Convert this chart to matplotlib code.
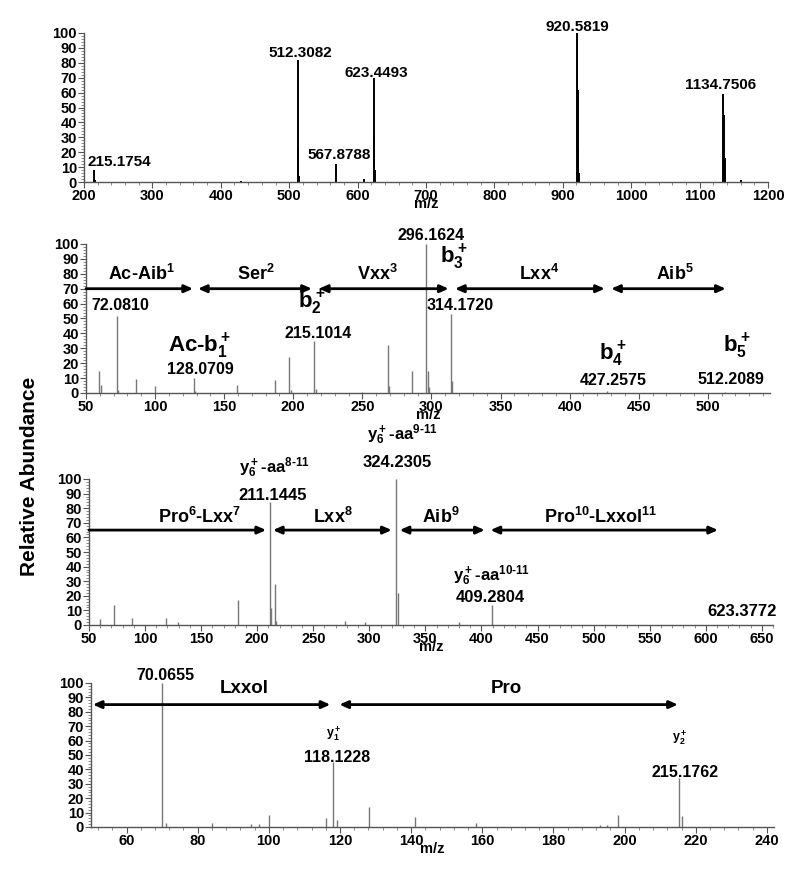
import matplotlib
matplotlib.use("Agg")
import matplotlib.pyplot as plt
from matplotlib.ticker import MultipleLocator

plt.rcParams['font.family'] = ['Liberation Sans Narrow', 'Liberation Sans', 'DejaVu Sans']
plt.rcParams['font.weight'] = 'bold'
plt.rcParams['mathtext.fontset'] = 'custom'
plt.rcParams['mathtext.rm'] = 'Liberation Sans:bold'
plt.rcParams['mathtext.bf'] = 'Liberation Sans:bold'
plt.rcParams['mathtext.default'] = 'bf'

# ---- data: m/z and relative abundance per spectrum ----
p1_mz = [215.18, 216.2, 430, 512.31, 513.31, 514.3, 567.88, 568.9, 610, 623.45, 624.45, 625.45,
         920.58, 921.58, 922.58, 923.58, 1134.75, 1135.75, 1136.75, 1137.75, 1160]
p1_int = [8, 1.5, 1, 82, 23, 4, 12, 3, 2, 70, 30, 8, 100, 62, 23, 6, 59, 45, 16, 4, 1.5]

p2_mz = [59.05, 61.0, 72.08, 73.1, 86.1, 100.1, 128.07, 129.1, 159.1, 187.1, 197.1, 198.1,
         215.10, 216.1, 250, 268.2, 269.2, 286.1, 296.16, 297.2, 298.2, 314.17, 315.2, 427.26, 512.21]
p2_int = [15, 5.5, 52, 2, 9.5, 5, 10, 1.5, 5.5, 8.5, 24, 2, 35, 3, 1, 32, 5, 14.5, 100, 15, 4,
          53, 8, 1.5, 0.5]

p3_mz = [60, 72.08, 88, 119, 129, 183.1, 211.14, 212.15, 215.6, 217, 278, 296, 324.23, 325.23,
         380, 409.28, 623.38]
p3_int = [4, 13.5, 4.5, 4.5, 2, 17, 84, 11.5, 28, 3, 3, 2, 100, 22, 2, 13.5, 0.5]

p4_mz = [70.07, 71.07, 84.1, 95.1, 97.1, 100.1, 116.1, 118.12, 119.1, 128.1, 141.1, 158.1,
         193, 195, 198.1, 215.18, 216.18]
p4_int = [100, 3, 3, 2, 2, 8, 6.5, 45, 5, 14, 7, 3, 1.5, 1.5, 8, 34, 7.5]

# peak labels: (text, x, y centre, size)
p1_labels = [("215.1754", 252, 13.5, 11), ("512.3082", 516, 86.5, 11), ("567.8788", 573, 18, 11),
             ("623.4493", 627, 73, 11), ("920.5819", 922, 104, 11), ("1134.7506", 1131, 65, 11)]
p2_labels = [("296.1624", 300, 106, 11.5), ("b$_3^+$", 316, 91, 16), ("72.0810", 74.6, 59, 11.5),
             ("b$_2^+$", 213, 61, 16), ("314.1720", 321, 59, 11.5), ("215.1014", 217.7, 40, 11.5),
             ("Ac-b$_1^+$", 132.5, 31, 16), ("128.0709", 132.5, 16, 11.5), ("b$_4^+$", 431.5, 26, 16),
             ("427.2575", 431.5, 8.5, 11.5), ("b$_5^+$", 521, 31, 16), ("512.2089", 516.6, 9, 11.5)]
p3_labels = [("y$_6^+$-aa$^{8\u201011}$", 215.6, 108, 12), ("211.1445", 213.4, 89, 12),
             ("y$_6^+$-aa$^{9\u201011}$", 329, 130, 12), ("324.2305", 325.3, 111, 12),
             ("y$_6^+$-aa$^{10\u201011}$", 408.8, 34, 12), ("409.2804", 408, 19, 12),
             ("623.3772", 632, 9, 12)]
p4_labels = [("70.0655", 71, 105, 11.5), ("y$_1^+$", 118.4, 65, 9), ("118.1228", 119.2, 48.6, 11.5),
             ("y$_2^+$", 215.5, 62, 9), ("215.1762", 217, 38, 11.5)]

# sequence arrows: (start, end, both heads, y)  and residue names (text, x, y)
p2_arrows = [(50, 127.5, False, 70), (131, 213.5, True, 70), (218.5, 312.5, True, 70),
             (317, 425.5, True, 70), (430, 513, True, 70)]
p2_names = [("Ac-Aib$^1$", 90, 80), ("Ser$^2$", 173, 80), ("Vxx$^3$", 261, 80),
            ("Lxx$^4$", 378, 80), ("Aib$^5$", 476, 80)]
p3_arrows = [(50, 208, False, 65), (214, 320, True, 65), (327, 403, True, 65), (408, 611, True, 65)]
p3_names = [("Pro$^6$-Lxx$^7$", 149, 74), ("Lxx$^8$", 267.6, 74), ("Aib$^9$", 363.5, 74),
            ("Pro$^{10}$-Lxxol$^{11}$", 506.5, 74)]
p4_arrows = [(50.5, 117.3, True, 85), (119.8, 215, True, 85)]
p4_names = [("Lxxol", 93, 96.5), ("Pro", 166.7, 96.5)]

W, H = 800, 869
fig = plt.figure(figsize=(W / 100, H / 100), dpi=100)


def make_ax(left, right, top, bottom, xlim, xmaj, xmin):
    ax = fig.add_axes([left / W, 1 - bottom / H, (right - left) / W, (bottom - top) / H])
    ax.set_xlim(*xlim)
    ax.set_ylim(0, 100)
    ax.spines['top'].set_visible(False)
    ax.spines['right'].set_visible(False)
    for s in ('left', 'bottom'):
        ax.spines[s].set_color('#555555')
        ax.spines[s].set_linewidth(1.0)
    ax.yaxis.set_major_locator(MultipleLocator(10))
    ax.yaxis.set_minor_locator(MultipleLocator(2))
    ax.xaxis.set_major_locator(MultipleLocator(xmaj))
    ax.xaxis.set_minor_locator(MultipleLocator(xmin))
    ax.tick_params(which='major', length=4, width=0.8, color='#555555', labelsize=10.5, pad=1)
    ax.tick_params(which='minor', length=2.5, width=0.6, color='#777777')
    ax.set_xlabel("m/z", fontsize=10.5, fontweight='bold', labelpad=-4)
    return ax


def draw(ax, mz, inten, color, lw):
    ax.vlines(mz, 0, inten, color=color, linewidth=lw)


def put_labels(ax, labels):
    for txt, x, y, sz in labels:
        ax.text(x, y, txt, ha='center', va='center', fontsize=sz, fontweight='bold',
                clip_on=False)


def put_arrows(ax, arrows, names, size):
    for x0, x1, both, y in arrows:
        style = '<|-|>' if both else '-|>'
        ax.annotate('', xy=(x1, y), xytext=(x0, y),
                    arrowprops=dict(arrowstyle=style + ',head_length=0.5,head_width=0.22',
                                    color='black', lw=2, shrinkA=0, shrinkB=0))
    for txt, x, y in names:
        ax.text(x, y, txt, ha='center', va='center', fontsize=size, fontweight='bold')


ax1 = make_ax(84, 768, 33, 182, (200, 1200), 100, 20)
draw(ax1, p1_mz, p1_int, 'black', 1.4)
put_labels(ax1, p1_labels)

ax2 = make_ax(86, 770, 244, 393, (50, 545), 50, 10)
draw(ax2, p2_mz, p2_int, '#777777', 1.0)
put_arrows(ax2, p2_arrows, p2_names, 13)
put_labels(ax2, p2_labels)

ax3 = make_ax(89, 773, 479, 625, (50, 660), 50, 10)
draw(ax3, p3_mz, p3_int, '#777777', 1.0)
put_arrows(ax3, p3_arrows, p3_names, 13)
put_labels(ax3, p3_labels)

ax4 = make_ax(91, 774, 683, 827, (50, 242), 20, 4)
draw(ax4, p4_mz, p4_int, '#777777', 1.0)
put_arrows(ax4, p4_arrows, p4_names, 13.5)
put_labels(ax4, p4_labels)

fig.text(30 / W, 1 - 476 / H, "Relative Abundance", rotation=90, ha='center', va='center',
         fontsize=15, fontweight='bold', family=['Liberation Sans', 'DejaVu Sans'])

fig.savefig("out.png", dpi=100, facecolor='white')
